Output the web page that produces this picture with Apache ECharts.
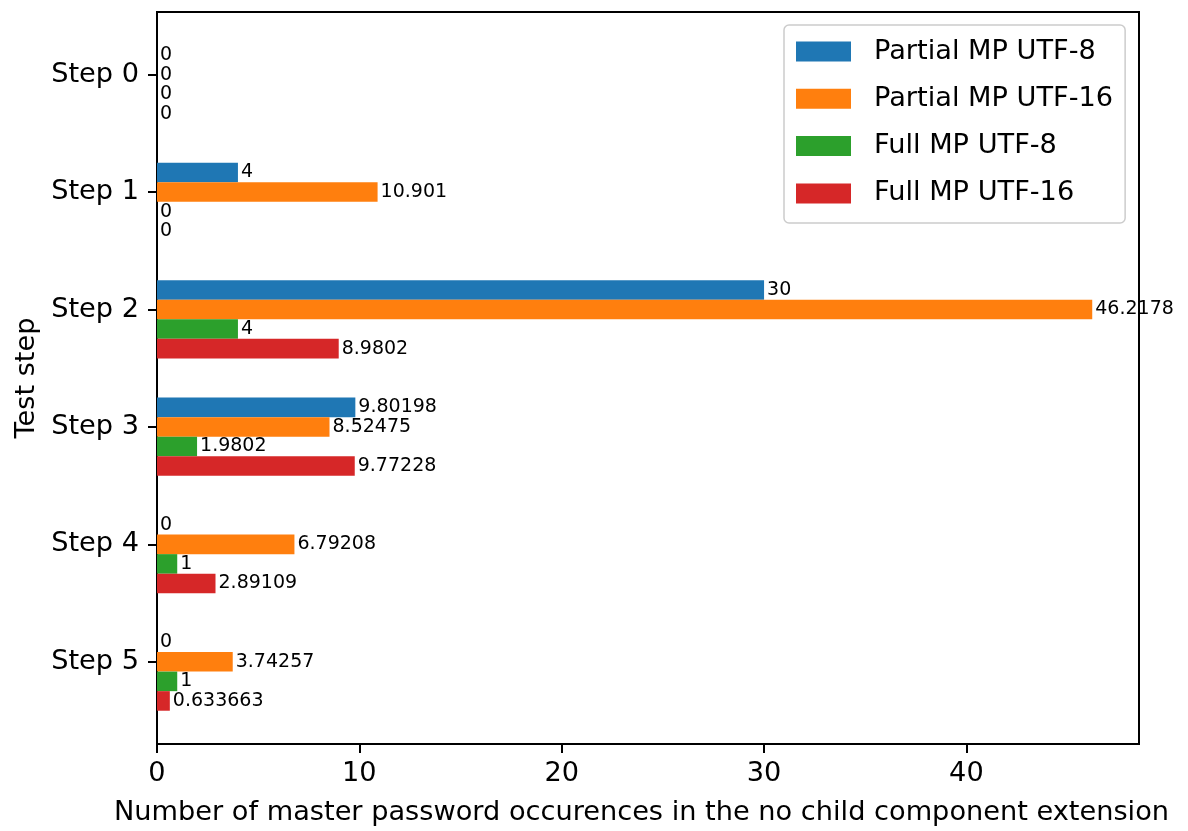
<!DOCTYPE html>
<html>
<head>
<meta charset="utf-8">
<script src="https://cdn.jsdelivr.net/npm/echarts@6/dist/echarts.min.js"></script>
<style>
  html, body { margin: 0; padding: 0; background: #fff; }
  #chart { width: 1188px; height: 831px; }
</style>
</head>
<body>
<div id="chart"></div>
<script>
// Categories, series and tick labels
const steps = ['Step 0', 'Step 1', 'Step 2', 'Step 3', 'Step 4', 'Step 5'];
const seriesNames = ['Partial MP UTF-8', 'Partial MP UTF-16', 'Full MP UTF-8', 'Full MP UTF-16'];
const partialUtf8 = [0, 4, 30, 9.80198, 0, 0];
const partialUtf16 = [0, 10.901, 46.2178, 8.52475, 6.79208, 3.74257];
const fullUtf8 = [0, 0, 4, 1.9802, 1, 1];
const fullUtf16 = [0, 0, 8.9802, 9.77228, 2.89109, 0.633663];
const xTickValues = [0, 10, 20, 30, 40];
const yTickValues = [0, 1, 2, 3, 4, 5];

const colors = ['#1f77b4', '#ff7f0e', '#2ca02c', '#d62728'];
const FONT = 'DejaVu Sans';
const BAR = 1 / 6;               // bar thickness in category units
const valuesBySeries = [partialUtf8, partialUtf16, fullUtf8, fullUtf16];

// Axis extents with 5% margins around the data
const maxVal = Math.max(...valuesBySeries.flat());
const yLo = -1.5 * BAR;
const yHi = steps.length - 1 + 2.5 * BAR;
const yPad = (yHi - yLo) * 0.05;

// Each series draws its bar shifted by (k - 1) bar widths from the tick, plus a value label
function makeRender(k) {
  return function (params, api) {
    const v = api.value(0);
    const c = api.value(1);
    const yc = c + (k - 1) * BAR;
    const a = api.coord([0, yc - BAR / 2]);
    const b = api.coord([v, yc + BAR / 2]);
    const m = api.coord([v, yc]);
    return {
      type: 'group',
      children: [
        {
          type: 'rect',
          shape: {
            x: a[0],
            y: Math.min(a[1], b[1]),
            width: b[0] - a[0],
            height: Math.abs(b[1] - a[1])
          },
          style: { fill: colors[k] }
        },
        {
          type: 'text',
          x: m[0] + 3,
          y: m[1],
          z2: 10,
          style: {
            text: String(v),
            fontFamily: FONT,
            fontSize: 19,
            fill: '#000',
            align: 'left',
            verticalAlign: 'middle'
          }
        }
      ]
    };
  };
}

const series = seriesNames.map((name, k) => ({
  name: name,
  type: 'custom',
  renderItem: makeRender(k),
  itemStyle: { color: colors[k] },
  encode: { x: 0, y: 1 },
  clip: false,
  data: valuesBySeries[k].map((v, i) => [v, i])
}));

const axisText = { fontFamily: FONT, fontSize: 27.2, color: '#000' };

const chart = echarts.init(document.getElementById('chart'), null, { renderer: 'canvas' });
chart.setOption({
  animation: false,
  backgroundColor: '#fff',
  grid: {
    left: 157, right: 49, top: 12, bottom: 87,
    show: true, borderColor: '#000', borderWidth: 2, backgroundColor: 'transparent'
  },
  legend: {
    orient: 'vertical',
    left: 784,
    top: 25,
    padding: [13, 12, 16, 12],
    itemWidth: 55,
    itemHeight: 20,
    itemGap: 20.3,
    icon: 'rect',
    backgroundColor: 'rgba(255,255,255,0.8)',
    borderColor: '#cccccc',
    borderWidth: 1.5,
    borderRadius: 5,
    textStyle: {
      fontFamily: FONT, fontSize: 27.2, color: '#000',
      lineHeight: 20, padding: [0, 0, 0, 18]
    },
    data: seriesNames
  },
  xAxis: {
    type: 'value',
    min: 0,
    max: maxVal * 1.05,
    name: 'Number of master password occurences in the no child component extension',
    nameLocation: 'middle',
    nameGap: 55,
    nameTextStyle: Object.assign({ padding: [0, 13, 0, 0] }, axisText),
    axisLine: { show: true, onZero: false, lineStyle: { color: '#000', width: 2 } },
    axisTick: { show: true, length: 9, lineStyle: { color: '#000', width: 2 }, customValues: xTickValues },
    axisLabel: Object.assign({ margin: 16, customValues: xTickValues }, axisText),
    splitLine: { show: false }
  },
  yAxis: {
    type: 'value',
    inverse: true,
    min: yLo - yPad,
    max: yHi + yPad,
    name: 'Test step',
    nameLocation: 'middle',
    nameGap: 117,
    nameTextStyle: axisText,
    axisLine: { show: true, onZero: false, lineStyle: { color: '#000', width: 2 } },
    axisTick: { show: true, length: 9, lineStyle: { color: '#000', width: 2 }, customValues: yTickValues },
    axisLabel: Object.assign({
      margin: 18,
      customValues: yTickValues,
      formatter: v => steps[Math.round(v)]
    }, axisText),
    splitLine: { show: false }
  },
  series: series
});
</script>
</body>
</html>
